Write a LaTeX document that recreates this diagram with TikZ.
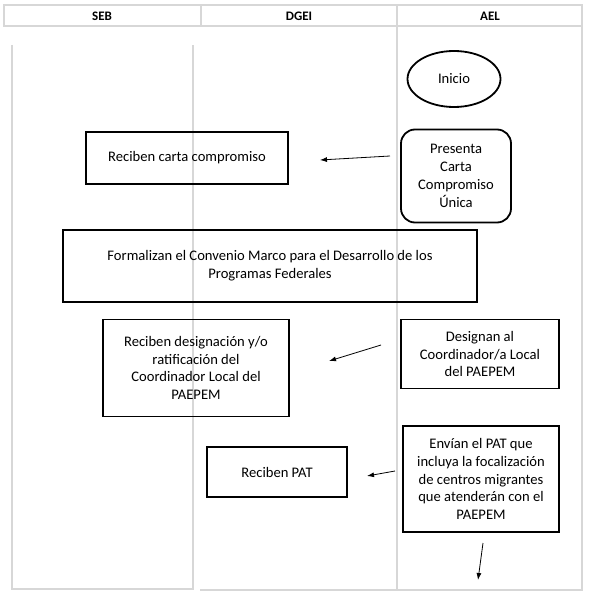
\documentclass[tikz,border=0pt]{standalone}
\usepackage{fontspec}
\setmainfont{Carlito}
\usetikzlibrary{arrows.meta,positioning,shapes.geometric}
\definecolor{laneline}{RGB}{215,215,215}

\begin{document}
\begin{tikzpicture}[x=1pt,y=-1pt,>=Latex,
  lane/.style={draw=laneline, line width=1.4pt},
  head/.style={font=\fontsize{13}{15}\selectfont\bfseries},
  task/.style={draw, line width=1.8pt, align=center, inner sep=2pt, font=\fontsize{14.6}{17.8}\selectfont},
  flow/.style={-{Latex[length=7pt,width=5pt]}, line width=0.8pt}]
  \useasboundingbox (0,0) rectangle (590,596);
  % header
  \draw[lane] (4,5) rectangle (582,26);
  \draw[lane] (201,5) -- (201,26) (397,5) -- (397,26);
  \node[head] (seb) at (102,16) {SEB};
  \node[head] (dgei) at (299,16) {DGEI};
  \node[head] (ael) at (490,16) {AEL};
  % lanes
  \draw[lane] (12,45) -- (12,589) -- (193,589) -- (193,45);
  \draw[lane] (200,590) -- (582,590) -- (582,26);
  \draw[lane] (397,26) -- (397,590);
  % steps
  \node[task, ellipse, inner sep=0pt, minimum width=93, minimum height=56] (ini) at (454,79) {Inicio};
  \node[task, rounded corners=14pt, minimum width=110, minimum height=93] (pcc) at (456,176)
      {Presenta\\ Carta\\ Compromiso\\ Única};
  \node[task, minimum width=202, minimum height=52] (rcc) at (187,158) {Reciben carta compromiso};
  \node[task, minimum width=414, minimum height=72] (fcm) at (270,266)
      {Formalizan el Convenio Marco para el Desarrollo de los\\ Programas Federales};
  \node[task, minimum width=158, minimum height=69] (dcl) at (480,354)
      {Designan al\\ Coordinador/a Local\\ del PAEPEM};
  \node[task, minimum width=186, minimum height=97] (rdc) at (196,368)
      {Reciben designación y/o\\ ratificación del\\ Coordinador Local del\\ PAEPEM};
  \node[task, minimum width=156, minimum height=106] (epat) at (481,479)
      {Envían el PAT que\\ incluya la focalización\\ de centros migrantes\\ que atenderán con el\\ PAEPEM};
  \node[task, minimum width=140, minimum height=50] (rpat) at (277,472) {Reciben PAT};
  % loose arrows
  \coordinate (a1s) at (390,156); \coordinate (a1e) at (320,160);
  \coordinate (a2s) at (381,345); \coordinate (a2e) at (329,361);
  \coordinate (a3s) at (395,471); \coordinate (a3e) at (367,476);
  \coordinate (a4s) at (483,543); \coordinate (a4e) at (478,580);
  \draw[flow] (a1s) -- (a1e);
  \draw[flow] (a2s) -- (a2e);
  \draw[flow] (a3s) -- (a3e);
  \draw[flow] (a4s) -- (a4e);
\end{tikzpicture}
\end{document}
